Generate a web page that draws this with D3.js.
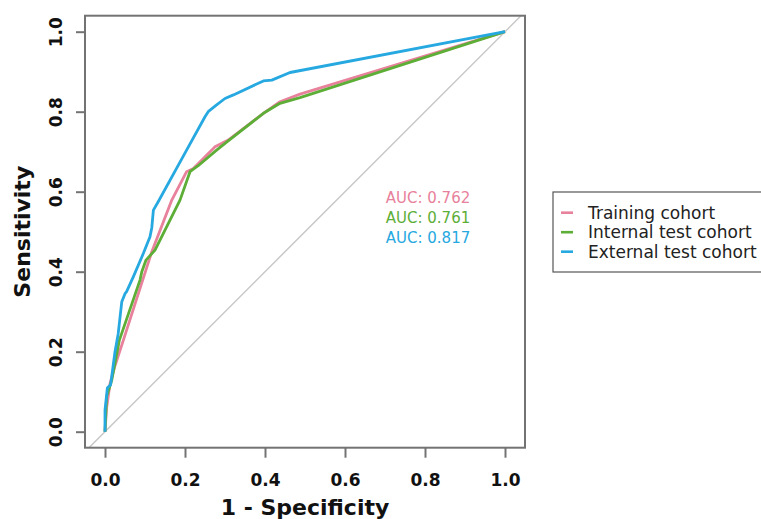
<!DOCTYPE html>
<html>
<head>
<meta charset="utf-8">
<script src="https://cdn.jsdelivr.net/npm/d3@7"></script>
<style>
  html, body { margin: 0; padding: 0; background: #fff; }
  svg { display: block; }
</style>
</head>
<body>
<svg id="chart" width="761" height="519"></svg>
<script>
// ROC curves: points are [1 - specificity, sensitivity]
const trainingROC = [
  [0, 0], [0.004, 0.06], [0.0125, 0.12], [0.025, 0.165], [0.046, 0.229],
  [0.117, 0.45], [0.167, 0.579], [0.204, 0.65], [0.221, 0.658], [0.267, 0.704],
  [0.275, 0.7125], [0.308, 0.729], [0.396, 0.796], [0.4375, 0.825], [0.4875, 0.844],
  [1, 1]
];
const internalROC = [
  [0, 0], [0.004, 0.0875], [0.017, 0.129], [0.036, 0.229], [0.0875, 0.379],
  [0.092, 0.4], [0.1025, 0.429], [0.125, 0.454], [0.1875, 0.579], [0.2125, 0.65],
  [0.233, 0.665], [0.279, 0.704], [0.308, 0.727], [0.396, 0.796], [0.4375, 0.821],
  [0.4875, 0.835], [1, 1]
];
const externalROC = [
  [0, 0], [0, 0.054], [0.006, 0.11], [0.014, 0.117], [0.025, 0.2], [0.033, 0.245],
  [0.042, 0.325], [0.05, 0.345], [0.054, 0.35], [0.071, 0.3875], [0.096, 0.446],
  [0.1125, 0.4875], [0.117, 0.51], [0.121, 0.554], [0.133, 0.575], [0.204, 0.704],
  [0.25, 0.7875], [0.258, 0.8], [0.279, 0.817], [0.3, 0.833], [0.321, 0.842],
  [0.3875, 0.873], [0.396, 0.877], [0.417, 0.879], [0.4625, 0.898], [1, 1]
];

const seriesNames = ["Training cohort", "Internal test cohort", "External test cohort"];
const aucLabels = ["AUC: 0.762", "AUC: 0.761", "AUC: 0.817"];
const seriesColors = ["#E8819B", "#5DAE37", "#26A8E0"];
const xTicks = [0, 0.2, 0.4, 0.6, 0.8, 1.0];
const yTicks = [0, 0.2, 0.4, 0.6, 0.8, 1.0];

const svg = d3.select("#chart");
const box = { left: 85, right: 525, top: 15.7, bottom: 447.7 };

const x = d3.scaleLinear().domain([-0.05, 1.05]).range([box.left, box.right]);
const y = d3.scaleLinear().domain([-0.04, 1.04]).range([box.bottom, box.top]);

const axisColor = "#737373";

// reference diagonal, clipped to the plot box
svg.append("clipPath").attr("id", "plotClip")
  .append("rect")
  .attr("x", box.left).attr("y", box.top)
  .attr("width", box.right - box.left).attr("height", box.bottom - box.top);

svg.append("line")
  .attr("clip-path", "url(#plotClip)")
  .attr("x1", x(-0.1)).attr("y1", y(-0.1))
  .attr("x2", x(1.1)).attr("y2", y(1.1))
  .attr("stroke", "#c8c8c8").attr("stroke-width", 1.5);

// ROC curves
const line = d3.line().x(d => x(d[0])).y(d => y(d[1]));
[trainingROC, internalROC, externalROC].forEach((pts, i) => {
  svg.append("path")
    .datum(pts)
    .attr("d", line)
    .attr("fill", "none")
    .attr("stroke", seriesColors[i])
    .attr("stroke-width", 2.8)
    .attr("stroke-linejoin", "round");
});

// plot frame
svg.append("rect")
  .attr("x", box.left).attr("y", box.top)
  .attr("width", box.right - box.left).attr("height", box.bottom - box.top)
  .attr("fill", "none").attr("stroke", axisColor).attr("stroke-width", 2);

// x axis
const xAxis = svg.append("g")
  .attr("transform", `translate(0,${box.bottom})`)
  .call(d3.axisBottom(x).tickValues(xTicks).tickFormat(d3.format(".1f")).tickSize(10).tickPadding(16));
xAxis.select(".domain").remove();
xAxis.selectAll("line").attr("stroke", axisColor).attr("stroke-width", 2);
xAxis.selectAll("text")
  .attr("fill", "#111")
  .style("font-family", "DejaVu Sans, sans-serif")
  .style("font-weight", "bold")
  .style("font-size", "17px");

// y axis with vertical tick labels
const yAxis = svg.append("g")
  .attr("transform", `translate(${box.left},0)`)
  .call(d3.axisLeft(y).tickValues(yTicks).tickFormat(d3.format(".1f")).tickSize(9));
yAxis.select(".domain").remove();
yAxis.selectAll("line").attr("stroke", axisColor).attr("stroke-width", 2);
yAxis.selectAll("text")
  .attr("x", 0).attr("y", 0).attr("dy", null)
  .attr("text-anchor", "middle")
  .attr("transform", "translate(-23.5,0) rotate(-90)")
  .attr("fill", "#111")
  .style("font-family", "DejaVu Sans, sans-serif")
  .style("font-weight", "bold")
  .style("font-size", "17px");

// axis titles
svg.append("text")
  .attr("x", x(0.5)).attr("y", 515)
  .attr("text-anchor", "middle")
  .attr("fill", "#111")
  .style("font-family", "DejaVu Sans, sans-serif")
  .style("font-weight", "bold")
  .style("font-size", "22px")
  .text("1 - Specificity");

svg.append("text")
  .attr("transform", `translate(30,${y(0.5)}) rotate(-90)`)
  .attr("text-anchor", "middle")
  .attr("fill", "#111")
  .style("font-family", "DejaVu Sans, sans-serif")
  .style("font-weight", "bold")
  .style("font-size", "22px")
  .text("Sensitivity");

// AUC annotations
aucLabels.forEach((t, i) => {
  svg.append("text")
    .attr("x", 428).attr("y", 203 + i * 19.8)
    .attr("text-anchor", "middle")
    .attr("fill", seriesColors[i])
    .style("font-family", "DejaVu Sans, sans-serif")
    .style("font-size", "15px")
    .text(t);
});

// legend
const legend = svg.append("g");
legend.append("rect")
  .attr("x", 553).attr("y", 192)
  .attr("width", 230).attr("height", 80)
  .attr("fill", "#fff").attr("stroke", "#555").attr("stroke-width", 1.2);
seriesNames.forEach((name, i) => {
  const cy = 212.7 + i * 19.5;
  legend.append("line")
    .attr("x1", 561).attr("x2", 573)
    .attr("y1", cy).attr("y2", cy)
    .attr("stroke", seriesColors[i]).attr("stroke-width", 2.6);
  legend.append("text")
    .attr("x", 588).attr("y", cy + 6)
    .attr("fill", "#222")
    .style("font-family", "DejaVu Sans, sans-serif")
    .style("font-size", "17px")
    .text(name);
});
</script>
</body>
</html>
